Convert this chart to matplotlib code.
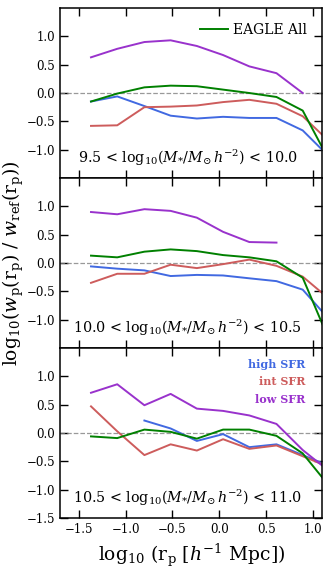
import numpy as np
import matplotlib.pyplot as plt

plt.rcParams['font.family'] = 'DejaVu Serif'
plt.rcParams['mathtext.fontset'] = 'dejavuserif'

# log10 rp bin centres
logrp = [-1.37, -1.09, -0.80, -0.52, -0.24, 0.04, 0.32, 0.61, 0.89, 1.17]

# panel 1: 9.5 - 10.0
p1_all = [-0.15, -0.01, 0.10, 0.13, 0.12, 0.06, 0.00, -0.07, -0.31, -1.18]
p1_high = [-0.15, -0.06, -0.23, -0.40, -0.45, -0.42, -0.44, -0.44, -0.66, -1.12]
p1_int = [-0.58, -0.57, -0.25, -0.24, -0.22, -0.16, -0.12, -0.19, -0.41, -0.85]
p1_low = [0.63, 0.78, 0.90, 0.93, 0.83, 0.67, 0.47, 0.35, 0.00, np.nan]

# panel 2: 10.0 - 10.5
p2_all = [0.13, 0.10, 0.20, 0.24, 0.21, 0.14, 0.10, 0.03, -0.26, -1.35]
p2_high = [-0.06, -0.10, -0.13, -0.23, -0.21, -0.22, -0.27, -0.32, -0.47, -0.99]
p2_int = [-0.35, -0.19, -0.19, -0.03, -0.09, -0.02, 0.06, -0.05, -0.24, -0.63]
p2_low = [0.90, 0.86, 0.95, 0.92, 0.80, 0.55, 0.37, 0.36, np.nan, np.nan]

# panel 3: 10.5 - 11.0
p3_all = [-0.06, -0.09, 0.06, 0.02, -0.10, 0.06, 0.06, -0.05, -0.36, -0.93]
p3_high = [np.nan, np.nan, 0.22, 0.08, -0.14, -0.02, -0.25, -0.20, -0.39, -0.58]
p3_int = [0.47, 0.03, -0.39, -0.20, -0.31, -0.11, -0.28, -0.22, -0.41, -0.60]
p3_low = [0.71, 0.86, 0.49, 0.69, 0.43, 0.39, 0.31, 0.16, -0.30, -0.67]

labels = ['9.5 < log$_{10}$($M_{*}/M_{\\odot}\\,h^{-2}$) < 10.0',
          '10.0 < log$_{10}$($M_{*}/M_{\\odot}\\,h^{-2}$) < 10.5',
          '10.5 < log$_{10}$($M_{*}/M_{\\odot}\\,h^{-2}$) < 11.0']

panels = [(p1_all, p1_high, p1_int, p1_low),
          (p2_all, p2_high, p2_int, p2_low),
          (p3_all, p3_high, p3_int, p3_low)]

c_high = '#4169e1'
c_int = '#cd5c5c'
c_low = '#9932cc'
c_all = 'green'

fig, axes = plt.subplots(3, 1, figsize=(3.32, 5.73), dpi=100, sharex=True)
fig.subplots_adjust(left=0.181, right=0.971, top=0.986, bottom=0.096, hspace=0)

for i, ax in enumerate(axes):
    a, h, n, l = panels[i]
    ax.axhline(0, color='gray', ls='--', lw=0.9, alpha=0.8)
    ax.plot(logrp, h, color=c_high, lw=1.4)
    ax.plot(logrp, n, color=c_int, lw=1.4)
    ax.plot(logrp, l, color=c_low, lw=1.4)
    ax.plot(logrp, a, color=c_all, lw=1.4, label='EAGLE All')
    ax.set_xlim(-1.7, 1.1)
    ax.set_ylim(-1.5, 1.5)
    ax.set_xticks([-1.5, -1.0, -0.5, 0.0, 0.5, 1.0])
    if i < 2:
        ax.set_yticks([-1.0, -0.5, 0.0, 0.5, 1.0])
    else:
        ax.set_yticks([-1.5, -1.0, -0.5, 0.0, 0.5, 1.0])
    ax.tick_params(direction='in', top=True, right=True, length=6, width=1,
                   labelsize=8.5)
    for s in ax.spines.values():
        s.set_linewidth(1.1)
    ax.text(0.487, 0.12, labels[i], transform=ax.transAxes, ha='center',
            va='center', fontsize=10.3)

axes[0].legend(loc='upper right', frameon=False, fontsize=10,
               handlelength=2.0, borderaxespad=0.7, handletextpad=0.4)

for j, (txt, c) in enumerate([('high SFR', c_high), ('int SFR', c_int), ('low SFR', c_low)]):
    axes[2].text(0.935, 0.905 - j * 0.103, txt, color=c, transform=axes[2].transAxes,
                 ha='right', va='center', fontsize=8, fontweight='bold')

axes[2].set_xlabel(r'log$_{10}$ (r$_{\rm p}$ [$h^{-1}$ Mpc])', fontsize=13.5)
fig.text(0.04, 0.54, r'log$_{10}$($w_{\rm p}$(r$_{\rm p}$) / $w_{\rm ref}$(r$_{\rm p}$))',
         rotation=90, ha='center', va='center', fontsize=13.5)

fig.savefig('out.png', dpi=100)
